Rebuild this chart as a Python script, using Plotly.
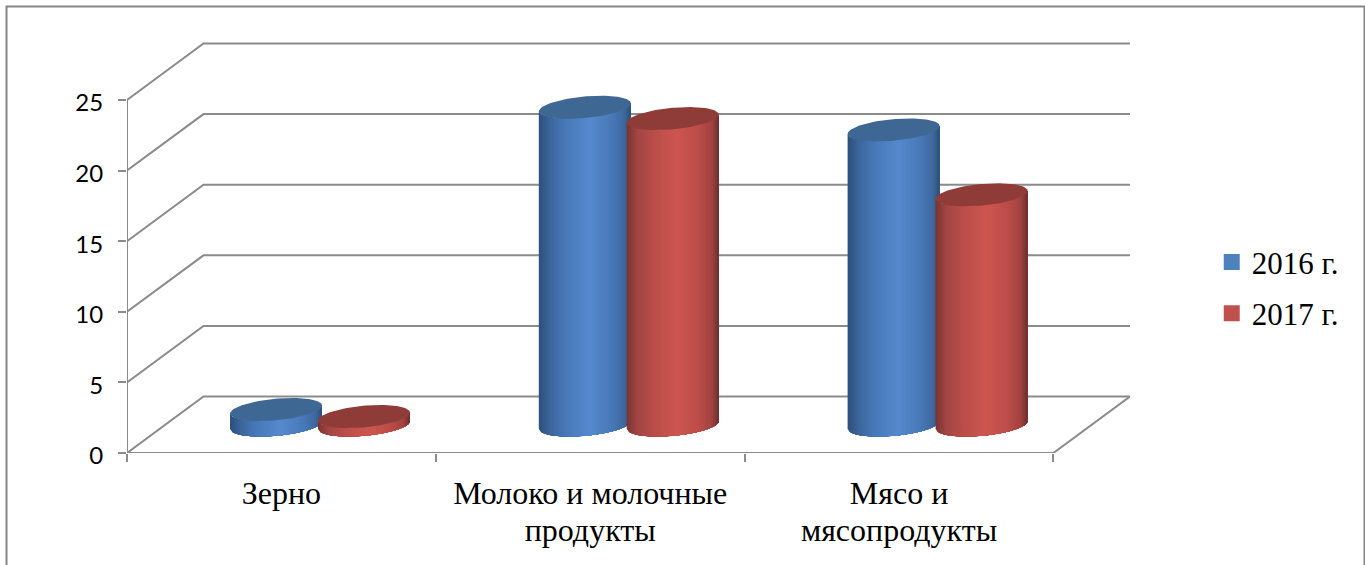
import numpy as np
import plotly.graph_objects as go

# Chart data
category_lines = ["Зерно", "Молоко и молочные<br>продукты", "Мясо и<br>мясопродукты"]
series_names = ["2016 г.", "2017 г."]
values_2016 = [1.1, 22.5, 20.9]
values_2017 = [0.6, 21.7, 16.3]
y_ticks = [0, 5, 10, 15, 20, 25]

# Page geometry (pixels) and the scales it gives the axes
WIDTH, HEIGHT = 1365, 565
M_L, M_R, M_T, M_B = 127, 235, 40, 111.5
Y_PER_UNIT = 14.14
X_PER_CAT = 308.8
X_MAX = (WIDTH - M_L - M_R) / X_PER_CAT
Y_MAX = (HEIGHT - M_T - M_B) / Y_PER_UNIT

# Oblique projection of the 3D box, in axis units
DEPTH_X = 76.5 / X_PER_CAT
DEPTH_Y = 56.5 / Y_PER_UNIT
BAR_SHIFT_X = 0.125
BAR_SHIFT_Y = 28 / Y_PER_UNIT
BAR_OFFSET = 0.1425
RADIUS_X = 46 / X_PER_CAT
TILT_Y = 4 / Y_PER_UNIT
RADIUS_Y = 10.8 / Y_PER_UNIT

GRID = "#8b8b8b"
SERIF = "Liberation Serif"

# Horizontal shading stops of the cylinder sides: (position, rgb)
BLUE_STOPS = [(0, (46, 80, 122)), (0.12, (60, 102, 156)), (0.3, (72, 122, 186)), (0.55, (86, 138, 206)),
              (0.8, (72, 120, 182)), (0.93, (62, 104, 158)), (1, (45, 78, 118))]
RED_STOPS = [(0, (122, 52, 50)), (0.12, (164, 70, 68)), (0.3, (186, 78, 74)), (0.55, (206, 86, 80)),
             (0.8, (186, 76, 72)), (0.93, (160, 66, 64)), (1, (105, 46, 44))]
BLUE_TOP, RED_TOP = "#3e6794", "#8f3c39"
BLUE_KEY, RED_KEY = "#4f81bd", "#c0504d"


def shade(stops, t):
    pos = [s[0] for s in stops]
    return "rgb(%d,%d,%d)" % tuple(np.interp(t, pos, [s[1][i] for s in stops]) for i in range(3))


def arc(cx, cy, xs, sign):
    u = np.clip((xs - cx) / RADIUS_X, -1, 1)
    return cy + TILT_Y * u + sign * RADIUS_Y * np.sqrt(1 - u ** 2)


def cylinder(fig, cx, value, stops, top_color, strips=46):
    base = BAR_SHIFT_Y
    top = base + value
    left, right = cx - RADIUS_X, cx + RADIUS_X
    # Each strip runs to the right edge, so later strips cover any seam
    for i in range(strips):
        x_start = left + 2 * RADIUS_X * i / strips
        xs = np.linspace(x_start, right, 40)
        xpoly = np.concatenate([xs, xs[::-1]])
        ypoly = np.concatenate([arc(cx, base, xs, -1), arc(cx, top, xs[::-1], -1)])
        fig.add_trace(go.Scatter(x=xpoly, y=ypoly, mode="lines", fill="toself", line_width=0,
                                 fillcolor=shade(stops, (i + 0.5) / strips), showlegend=False,
                                 hoverinfo="skip", cliponaxis=False))
    theta = np.linspace(0, 2 * np.pi, 120)
    u = np.cos(theta)
    fig.add_trace(go.Scatter(x=cx + RADIUS_X * u, y=top + TILT_Y * u + RADIUS_Y * np.sin(theta),
                             mode="lines", fill="toself", line_width=0, fillcolor=top_color,
                             showlegend=False, hoverinfo="skip", cliponaxis=False))


fig = go.Figure()

# Back wall, side wall and floor lines
wall_x, wall_y = [], []
for v in y_ticks:
    wall_x += [0, DEPTH_X, X_MAX, None]
    wall_y += [v, v + DEPTH_Y, v + DEPTH_Y, None]
wall_x += [0, 0, None, 0, 3, 3 + DEPTH_X]
wall_y += [0, y_ticks[-1], None, 0, 0, DEPTH_Y]
fig.add_trace(go.Scatter(x=wall_x, y=wall_y, mode="lines", line=dict(color=GRID, width=2),
                         showlegend=False, hoverinfo="skip", cliponaxis=False))

for i in range(len(category_lines)):
    center = i + 0.5 + BAR_SHIFT_X
    cylinder(fig, center - BAR_OFFSET, values_2016[i], BLUE_STOPS, BLUE_TOP)
    cylinder(fig, center + BAR_OFFSET, values_2017[i], RED_STOPS, RED_TOP)

# Legend entries
for j, (name, color) in enumerate(zip(series_names, [BLUE_KEY, RED_KEY])):
    fig.add_trace(go.Scatter(x=[None], y=[None], mode="markers", name=name, legendgroup=name,
                             marker=dict(symbol="square", size=16, color=color)))

# The tick font sets the tighter line spacing; the span sets the glyph size
tick_text = ["<br>".join('<span style="font-size:32px">%s</span>' % part for part in c.split("<br>"))
             for c in category_lines]

fig.update_layout(
    width=WIDTH, height=HEIGHT, margin=dict(l=M_L, r=M_R, t=M_T, b=M_B, autoexpand=False),
    paper_bgcolor="white", plot_bgcolor="rgba(0,0,0,0)",
    xaxis=dict(range=[0, X_MAX], tickvals=[0.5, 1.5, 2.5], ticktext=tick_text, ticks="",
               showgrid=False, zeroline=False, showline=False, tickangle=0,
               tickfont=dict(family=SERIF, size=28.5, color="black"), ticklabelstandoff=21,
               minor=dict(tickvals=[0, 1, 2, 3], ticks="outside", ticklen=8, tickwidth=2,
                          tickcolor=GRID, showgrid=False)),
    yaxis=dict(range=[0, Y_MAX], tickvals=y_ticks, ticks="outside", ticklen=8, tickwidth=2,
               tickcolor=GRID, showgrid=False, zeroline=False, showline=False,
               tickfont=dict(family="Lato", size=24, color="black"), ticklabelstandoff=10,
               ticklabelshift=3),
    legend=dict(x=1.0815, y=0.527, xanchor="left", yanchor="top", tracegroupgap=8,
                font=dict(family=SERIF, size=31, color="black"), bgcolor="rgba(0,0,0,0)"),
    shapes=[dict(type="rect", xref="paper", yref="paper", layer="below",
                 x0=(6.5 - M_L) / (WIDTH - M_L - M_R), x1=(1364.5 - M_L) / (WIDTH - M_L - M_R),
                 y0=-0.5, y1=(HEIGHT - M_B - 6.5) / (HEIGHT - M_T - M_B),
                 line=dict(color="#868686", width=2), fillcolor="white")],
)

fig.write_html("out.html")
